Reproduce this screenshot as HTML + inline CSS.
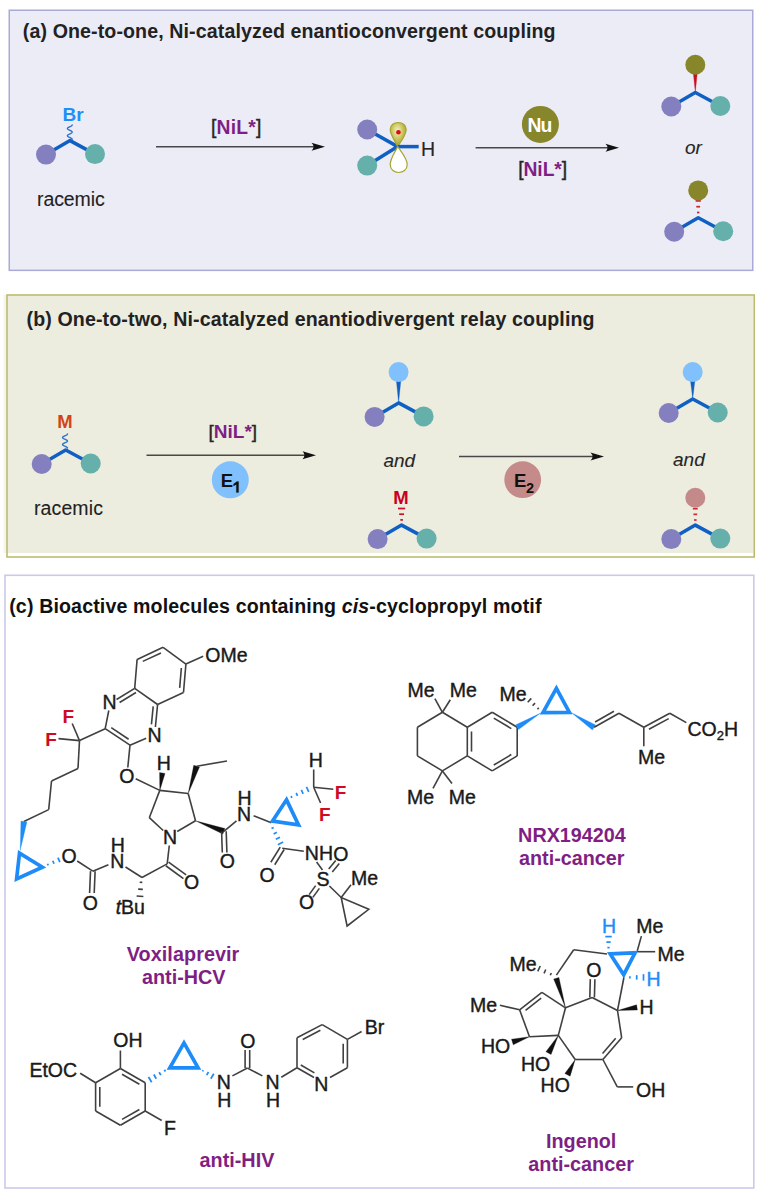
<!DOCTYPE html>
<html><head><meta charset="utf-8"><style>
html,body{margin:0;padding:0;background:#fff;width:762px;height:1198px;overflow:hidden}
svg{display:block;font-family:"Liberation Sans",sans-serif}
</style></head><body>
<svg width="762" height="1198" viewBox="0 0 762 1198">
<rect width="762" height="1198" fill="#fff"/>
<rect x="9.25" y="10.25" width="743.5" height="260.1" fill="#ececf6" stroke="#aaaad6" stroke-width="1.5"/>
<text x="22.80" y="38.40" font-size="19.6" font-weight="bold" font-style="normal" fill="#222" stroke="#222" stroke-width="0.0" textLength="532.77" lengthAdjust="spacing" >(a) One-to-one, Ni-catalyzed enantioconvergent coupling</text>
<polyline points="46.00,154.60 70.00,140.60 95.00,154.10" fill="none" stroke="#1060c4" stroke-width="3.5" stroke-linejoin="round" stroke-linecap="butt"/>
<circle cx="46.00" cy="154.60" r="10" fill="#8480c0" stroke="none" stroke-width="0"/>
<circle cx="95.00" cy="154.10" r="10" fill="#66b0ac" stroke="none" stroke-width="0"/>
<path d="M72.20,124.90 L72.15,125.14 L71.99,125.38 L71.74,125.62 L71.41,125.86 L71.00,126.10 L70.54,126.34 L70.05,126.58 L69.55,126.82 L69.06,127.06 L68.60,127.30 L68.19,127.54 L67.86,127.78 L67.61,128.02 L67.45,128.26 L67.40,128.50 L67.45,128.74 L67.61,128.98 L67.86,129.22 L68.19,129.46 L68.60,129.70 L69.06,129.94 L69.55,130.18 L70.05,130.42 L70.54,130.66 L71.00,130.90 L71.41,131.14 L71.74,131.38 L71.99,131.62 L72.15,131.86 L72.20,132.10 L72.15,132.34 L71.99,132.58 L71.74,132.82 L71.41,133.06 L71.00,133.30 L70.54,133.54 L70.05,133.78 L69.55,134.02 L69.06,134.26 L68.60,134.50 L68.19,134.74 L67.86,134.98 L67.61,135.22 L67.45,135.46 L67.40,135.70 L67.45,135.94 L67.61,136.18 L67.86,136.42 L68.19,136.66 L68.60,136.90 L69.06,137.14 L69.55,137.38 L70.05,137.62 L70.54,137.86 L71.00,138.10 L71.41,138.34 L71.74,138.58 L71.99,138.82 L72.15,139.06 L72.20,139.30" fill="none" stroke="#2a70cc" stroke-width="1.35" stroke-linecap="round" stroke-linejoin="round"/>
<text x="62.50" y="120.60" font-size="19" font-weight="bold" font-style="normal" fill="#1e90f8" stroke="#1e90f8" stroke-width="0.0" >Br</text>
<text x="37.00" y="206.30" font-size="19.5" font-weight="normal" font-style="normal" fill="#222" stroke="#222" stroke-width="0.1" textLength="67.75" lengthAdjust="spacing" >racemic</text>
<line x1="156.00" y1="146.70" x2="314.50" y2="146.70" stroke="#484848" stroke-width="1.5" stroke-linecap="butt"/>
<path d="M325.00,146.70 L311.50,142.70 Q315.50,146.70 311.50,150.70 Z" fill="#111"/>
<text x="211.00" y="134.30" font-size="19.3" textLength="50.36" lengthAdjust="spacing" ><tspan font-weight="normal" font-style="normal" fill="#262626" stroke="#262626" stroke-width="0.4" >[</tspan><tspan font-weight="bold" font-style="normal" fill="#7f1f84" stroke="#7f1f84" stroke-width="0.0" >NiL*</tspan><tspan font-weight="normal" font-style="normal" fill="#262626" stroke="#262626" stroke-width="0.4" >]</tspan></text>
<polyline points="367.20,129.50 397.70,146.60 367.20,165.60" fill="none" stroke="#1060c4" stroke-width="3.5" stroke-linejoin="round" stroke-linecap="butt"/>
<circle cx="367.20" cy="129.50" r="10" fill="#8480c0" stroke="none" stroke-width="0"/>
<circle cx="367.20" cy="165.60" r="10" fill="#66b0ac" stroke="none" stroke-width="0"/>
<defs><radialGradient id="lg" cx="0.45" cy="0.35" r="0.7"><stop offset="0" stop-color="#f4f2c8"/><stop offset="0.5" stop-color="#c8c45a"/><stop offset="1" stop-color="#9a9628"/></radialGradient></defs>
<path d="M397.7,146.6 C394.7,140.6 390.2,134.6 390.2,129.6 C390.2,120.1 406.2,120.1 406.2,129.6 C406.2,134.6 401.7,140.6 397.7,146.6 Z" fill="url(#lg)" stroke="#a8a432" stroke-width="1.2"/>
<line x1="397.70" y1="146.60" x2="418.70" y2="146.60" stroke="#1060c4" stroke-width="3.5" stroke-linecap="butt"/>
<path d="M397.7,146.6 C394.7,152.6 390.2,158.6 390.2,164.6 C390.2,175.1 407.2,175.1 407.2,164.6 C407.2,158.6 401.7,152.6 397.7,146.6 Z" fill="#ffffff" stroke="#a8a432" stroke-width="1.2"/>
<circle cx="398.40" cy="132.20" r="2.3" fill="#d0101a" stroke="none" stroke-width="0"/>
<text x="420.90" y="155.80" font-size="19.5" font-weight="normal" font-style="normal" fill="#262626" stroke="#262626" stroke-width="0.15" >H</text>
<line x1="475.60" y1="147.80" x2="608.50" y2="147.80" stroke="#484848" stroke-width="1.5" stroke-linecap="butt"/>
<path d="M619.00,147.80 L605.50,143.80 Q609.50,147.80 605.50,151.80 Z" fill="#111"/>
<circle cx="540.40" cy="124.40" r="18.5" fill="#88862a" stroke="none" stroke-width="0"/>
<text x="527.50" y="132.20" font-size="19.3" font-weight="bold" font-style="normal" fill="#ffffff" stroke="#ffffff" stroke-width="0.0" textLength="24.78" lengthAdjust="spacing" >Nu</text>
<text x="518.20" y="176.30" font-size="19.3" textLength="48.96" lengthAdjust="spacing" ><tspan font-weight="normal" font-style="normal" fill="#262626" stroke="#262626" stroke-width="0.4" >[</tspan><tspan font-weight="bold" font-style="normal" fill="#7f1f84" stroke="#7f1f84" stroke-width="0.0" >NiL*</tspan><tspan font-weight="normal" font-style="normal" fill="#262626" stroke="#262626" stroke-width="0.4" >]</tspan></text>
<polyline points="671.30,106.50 695.30,92.50 720.30,106.00" fill="none" stroke="#1060c4" stroke-width="3.5" stroke-linejoin="round" stroke-linecap="butt"/>
<circle cx="671.30" cy="106.50" r="10" fill="#8480c0" stroke="none" stroke-width="0"/>
<circle cx="720.30" cy="106.00" r="10" fill="#66b0ac" stroke="none" stroke-width="0"/>
<polygon points="695.30,92.50 697.40,72.00 693.20,72.00" fill="#c8101e" stroke="#c8101e" stroke-width="0.3" stroke-linejoin="miter"/>
<circle cx="695.30" cy="64.70" r="10" fill="#88862a" stroke="none" stroke-width="0"/>
<text x="685.00" y="154.40" font-size="19" font-weight="normal" font-style="italic" fill="#262626" stroke="#262626" stroke-width="0.1" >or</text>
<polyline points="674.20,231.70 698.20,217.70 723.20,231.20" fill="none" stroke="#1060c4" stroke-width="3.5" stroke-linejoin="round" stroke-linecap="butt"/>
<circle cx="674.20" cy="231.70" r="10" fill="#8480c0" stroke="none" stroke-width="0"/>
<circle cx="723.20" cy="231.20" r="10" fill="#66b0ac" stroke="none" stroke-width="0"/>
<line x1="695.60" y1="200.90" x2="700.80" y2="200.90" stroke="#d02030" stroke-width="1.7" stroke-linecap="butt"/>
<line x1="696.30" y1="206.70" x2="700.10" y2="206.70" stroke="#d02030" stroke-width="1.7" stroke-linecap="butt"/>
<line x1="697.00" y1="212.50" x2="699.40" y2="212.50" stroke="#d02030" stroke-width="1.7" stroke-linecap="butt"/>
<circle cx="698.20" cy="190.40" r="10" fill="#88862a" stroke="none" stroke-width="0"/>
<rect x="3.5" y="295" width="4" height="258" fill="#f4f4ec"/><rect x="7" y="295" width="746" height="258" fill="#ececdf"/>
<rect x="7" y="295" width="747.2" height="262" fill="none" stroke="#bcbc70" stroke-width="1.6"/>
<text x="26.50" y="325.80" font-size="19.6" font-weight="bold" font-style="normal" fill="#222" stroke="#222" stroke-width="0.0" textLength="568.07" lengthAdjust="spacing" >(b) One-to-two, Ni-catalyzed enantiodivergent relay coupling</text>
<polyline points="41.70,464.00 65.70,450.00 90.70,463.50" fill="none" stroke="#1060c4" stroke-width="3.5" stroke-linejoin="round" stroke-linecap="butt"/>
<circle cx="41.70" cy="464.00" r="10" fill="#8480c0" stroke="none" stroke-width="0"/>
<circle cx="90.70" cy="463.50" r="10" fill="#66b0ac" stroke="none" stroke-width="0"/>
<path d="M67.50,434.00 L67.45,434.23 L67.28,434.47 L67.02,434.70 L66.67,434.93 L66.25,435.17 L65.77,435.40 L65.26,435.63 L64.74,435.87 L64.23,436.10 L63.75,436.33 L63.33,436.57 L62.98,436.80 L62.72,437.03 L62.55,437.27 L62.50,437.50 L62.55,437.73 L62.72,437.97 L62.98,438.20 L63.33,438.43 L63.75,438.67 L64.23,438.90 L64.74,439.13 L65.26,439.37 L65.77,439.60 L66.25,439.83 L66.67,440.07 L67.02,440.30 L67.28,440.53 L67.45,440.77 L67.50,441.00 L67.45,441.23 L67.28,441.47 L67.02,441.70 L66.67,441.93 L66.25,442.17 L65.77,442.40 L65.26,442.63 L64.74,442.87 L64.23,443.10 L63.75,443.33 L63.33,443.57 L62.98,443.80 L62.72,444.03 L62.55,444.27 L62.50,444.50 L62.55,444.73 L62.72,444.97 L62.98,445.20 L63.33,445.43 L63.75,445.67 L64.23,445.90 L64.74,446.13 L65.26,446.37 L65.77,446.60 L66.25,446.83 L66.67,447.07 L67.02,447.30 L67.28,447.53 L67.45,447.77 L67.50,448.00" fill="none" stroke="#2a70cc" stroke-width="1.35" stroke-linecap="round" stroke-linejoin="round"/>
<text x="57.30" y="428.30" font-size="18.5" font-weight="bold" font-style="normal" fill="#d04418" stroke="#d04418" stroke-width="0.0" >M</text>
<text x="33.90" y="514.50" font-size="19.5" font-weight="normal" font-style="normal" fill="#222" stroke="#222" stroke-width="0.1" textLength="69.05" lengthAdjust="spacing" >racemic</text>
<line x1="146.50" y1="455.30" x2="305.50" y2="455.30" stroke="#484848" stroke-width="1.5" stroke-linecap="butt"/>
<path d="M316.00,455.30 L302.50,451.30 Q306.50,455.30 302.50,459.30 Z" fill="#111"/>
<text x="208.50" y="437.50" font-size="19" ><tspan font-weight="normal" font-style="normal" fill="#262626" stroke="#262626" stroke-width="0.4" >[</tspan><tspan font-weight="bold" font-style="normal" fill="#7f1f84" stroke="#7f1f84" stroke-width="0.0" >NiL*</tspan><tspan font-weight="normal" font-style="normal" fill="#262626" stroke="#262626" stroke-width="0.4" >]</tspan></text>
<circle cx="230.30" cy="479.80" r="18.5" fill="#80c0fc" stroke="none" stroke-width="0"/>
<text x="220.70" y="487.40" font-size="18.5" font-weight="bold" font-style="normal" fill="#111" stroke="#111" stroke-width="0.0" >E</text>
<polygon points="236.30,492.50 238.60,492.50 238.60,481.60 236.90,481.60 233.50,484.10 233.50,486.10 236.30,484.40" fill="#111" stroke="#111" stroke-width="0.2" stroke-linejoin="miter"/>
<polyline points="374.60,416.90 398.60,402.90 423.60,416.40" fill="none" stroke="#1060c4" stroke-width="3.5" stroke-linejoin="round" stroke-linecap="butt"/>
<circle cx="374.60" cy="416.90" r="10" fill="#8480c0" stroke="none" stroke-width="0"/>
<circle cx="423.60" cy="416.40" r="10" fill="#66b0ac" stroke="none" stroke-width="0"/>
<polygon points="398.60,402.90 400.90,380.00 396.30,380.00" fill="#1060c4" stroke="#1060c4" stroke-width="0.3" stroke-linejoin="miter"/>
<circle cx="398.60" cy="372.10" r="10" fill="#80c0fc" stroke="none" stroke-width="0"/>
<text x="383.40" y="467.00" font-size="19" font-weight="normal" font-style="italic" fill="#262626" stroke="#262626" stroke-width="0.1" >and</text>
<polyline points="377.60,539.10 401.60,525.10 426.60,538.60" fill="none" stroke="#1060c4" stroke-width="3.5" stroke-linejoin="round" stroke-linecap="butt"/>
<circle cx="377.60" cy="539.10" r="10" fill="#8480c0" stroke="none" stroke-width="0"/>
<circle cx="426.60" cy="538.60" r="10" fill="#66b0ac" stroke="none" stroke-width="0"/>
<line x1="398.00" y1="508.50" x2="405.20" y2="508.50" stroke="#c8102a" stroke-width="1.7" stroke-linecap="butt"/>
<line x1="399.15" y1="514.20" x2="404.05" y2="514.20" stroke="#c8102a" stroke-width="1.7" stroke-linecap="butt"/>
<line x1="400.30" y1="519.90" x2="402.90" y2="519.90" stroke="#c8102a" stroke-width="1.7" stroke-linecap="butt"/>
<text x="393.30" y="504.40" font-size="18.5" font-weight="bold" font-style="normal" fill="#c8001e" stroke="#c8001e" stroke-width="0.0" >M</text>
<line x1="459.00" y1="456.60" x2="593.50" y2="456.60" stroke="#484848" stroke-width="1.5" stroke-linecap="butt"/>
<path d="M604.00,456.60 L590.50,452.60 Q594.50,456.60 590.50,460.60 Z" fill="#111"/>
<circle cx="522.70" cy="479.70" r="18.4" fill="#c58a8a" stroke="none" stroke-width="0"/>
<text x="513.90" y="487.30" font-size="18.5" font-weight="bold" font-style="normal" fill="#111" stroke="#111" stroke-width="0.0" >E</text>
<text x="526.00" y="492.50" font-size="14.5" font-weight="bold" font-style="normal" fill="#111" stroke="#111" stroke-width="0.0" >2</text>
<polyline points="668.70,413.00 692.70,399.00 717.70,412.50" fill="none" stroke="#1060c4" stroke-width="3.5" stroke-linejoin="round" stroke-linecap="butt"/>
<circle cx="668.70" cy="413.00" r="10" fill="#8480c0" stroke="none" stroke-width="0"/>
<circle cx="717.70" cy="412.50" r="10" fill="#66b0ac" stroke="none" stroke-width="0"/>
<polygon points="692.70,399.00 695.00,380.00 690.40,380.00" fill="#1060c4" stroke="#1060c4" stroke-width="0.3" stroke-linejoin="miter"/>
<circle cx="692.70" cy="372.10" r="10" fill="#80c0fc" stroke="none" stroke-width="0"/>
<text x="673.00" y="466.30" font-size="19" font-weight="normal" font-style="italic" fill="#262626" stroke="#262626" stroke-width="0.1" >and</text>
<polyline points="671.30,539.10 695.30,525.10 720.30,538.60" fill="none" stroke="#1060c4" stroke-width="3.5" stroke-linejoin="round" stroke-linecap="butt"/>
<circle cx="671.30" cy="539.10" r="10" fill="#8480c0" stroke="none" stroke-width="0"/>
<circle cx="720.30" cy="538.60" r="10" fill="#66b0ac" stroke="none" stroke-width="0"/>
<line x1="692.85" y1="508.70" x2="697.75" y2="508.70" stroke="#d02838" stroke-width="1.7" stroke-linecap="butt"/>
<line x1="693.42" y1="514.35" x2="697.17" y2="514.35" stroke="#d02838" stroke-width="1.7" stroke-linecap="butt"/>
<line x1="694.00" y1="520.00" x2="696.60" y2="520.00" stroke="#d02838" stroke-width="1.7" stroke-linecap="butt"/>
<circle cx="695.30" cy="497.80" r="10" fill="#c48a8a" stroke="none" stroke-width="0"/>
<rect x="5" y="575.3" width="748.8" height="612.7" fill="#ffffff" stroke="#cacae8" stroke-width="1.6"/>
<text x="9.20" y="613.40" font-size="19.6" textLength="532.23" lengthAdjust="spacing" ><tspan font-weight="bold" font-style="normal" fill="#111" stroke="#111" stroke-width="0.0" >(c) Bioactive molecules containing </tspan><tspan font-weight="bold" font-style="italic" fill="#111" stroke="#111" stroke-width="0.0" >cis</tspan><tspan font-weight="bold" font-style="normal" fill="#111" stroke="#111" stroke-width="0.0" >-cyclopropyl motif</tspan></text>
<line x1="163.10" y1="647.30" x2="185.90" y2="664.10" stroke="#404040" stroke-width="1.6" stroke-linecap="butt"/>
<line x1="185.90" y1="664.10" x2="183.50" y2="692.50" stroke="#404040" stroke-width="1.6" stroke-linecap="butt"/>
<line x1="183.50" y1="692.50" x2="157.60" y2="704.50" stroke="#404040" stroke-width="1.6" stroke-linecap="butt"/>
<line x1="157.60" y1="704.50" x2="134.70" y2="688.40" stroke="#404040" stroke-width="1.6" stroke-linecap="butt"/>
<line x1="134.70" y1="688.40" x2="137.10" y2="659.40" stroke="#404040" stroke-width="1.6" stroke-linecap="butt"/>
<line x1="137.10" y1="659.40" x2="163.10" y2="647.30" stroke="#404040" stroke-width="1.6" stroke-linecap="butt"/>
<line x1="142.77" y1="661.39" x2="160.97" y2="652.92" stroke="#404040" stroke-width="1.6" stroke-linecap="butt"/>
<line x1="181.35" y1="668.01" x2="179.67" y2="687.89" stroke="#404040" stroke-width="1.6" stroke-linecap="butt"/>
<line x1="185.90" y1="664.10" x2="203.20" y2="656.30" stroke="#404040" stroke-width="1.6" stroke-linecap="butt"/>
<text x="205.30" y="661.50" font-size="19.5" font-weight="normal" font-style="normal" fill="#1a1a1a" stroke="#1a1a1a" stroke-width="0.4" >OMe</text>
<text x="102.50" y="708.50" font-size="19.5" font-weight="normal" font-style="normal" fill="#1a1a1a" stroke="#1a1a1a" stroke-width="0.4" >N</text>
<text x="147.50" y="741.50" font-size="19.5" font-weight="normal" font-style="normal" fill="#1a1a1a" stroke="#1a1a1a" stroke-width="0.4" >N</text>
<line x1="134.70" y1="688.40" x2="116.50" y2="699.50" stroke="#404040" stroke-width="1.6" stroke-linecap="butt"/>
<line x1="135.98" y1="692.54" x2="119.60" y2="702.53" stroke="#404040" stroke-width="1.6" stroke-linecap="butt"/>
<line x1="108.80" y1="710.50" x2="105.20" y2="728.70" stroke="#404040" stroke-width="1.6" stroke-linecap="butt"/>
<line x1="105.20" y1="728.70" x2="130.00" y2="745.20" stroke="#404040" stroke-width="1.6" stroke-linecap="butt"/>
<line x1="111.25" y1="727.68" x2="128.61" y2="739.23" stroke="#404040" stroke-width="1.6" stroke-linecap="butt"/>
<line x1="130.00" y1="745.20" x2="146.20" y2="738.20" stroke="#404040" stroke-width="1.6" stroke-linecap="butt"/>
<line x1="155.40" y1="727.00" x2="157.60" y2="704.50" stroke="#404040" stroke-width="1.6" stroke-linecap="butt"/>
<line x1="151.44" y1="724.34" x2="153.20" y2="706.34" stroke="#404040" stroke-width="1.6" stroke-linecap="butt"/>
<line x1="105.20" y1="728.70" x2="79.50" y2="740.60" stroke="#404040" stroke-width="1.6" stroke-linecap="butt"/>
<line x1="72.20" y1="723.50" x2="79.50" y2="740.60" stroke="#404040" stroke-width="1.6" stroke-linecap="butt"/>
<line x1="58.50" y1="738.60" x2="79.50" y2="740.60" stroke="#404040" stroke-width="1.6" stroke-linecap="butt"/>
<text x="62.40" y="722.50" font-size="19" font-weight="bold" font-style="normal" fill="#d00a22" stroke="#d00a22" stroke-width="0.0" >F</text>
<text x="45.30" y="746.40" font-size="19" font-weight="bold" font-style="normal" fill="#d00a22" stroke="#d00a22" stroke-width="0.0" >F</text>
<line x1="79.50" y1="740.60" x2="78.00" y2="768.50" stroke="#404040" stroke-width="1.6" stroke-linecap="butt"/>
<line x1="78.00" y1="768.50" x2="51.50" y2="781.00" stroke="#404040" stroke-width="1.6" stroke-linecap="butt"/>
<line x1="51.50" y1="781.00" x2="48.70" y2="809.60" stroke="#404040" stroke-width="1.6" stroke-linecap="butt"/>
<line x1="48.70" y1="809.60" x2="23.90" y2="821.50" stroke="#404040" stroke-width="1.6" stroke-linecap="butt"/>
<polygon points="20.20,850.50 26.88,821.88 20.92,821.12" fill="#1e8cf8" stroke="#1e8cf8" stroke-width="0.3" stroke-linejoin="miter"/>
<polygon points="19.51,853.10 16.60,878.87 42.37,867.15" fill="none" stroke="#1e8cf8" stroke-width="3.7" stroke-linejoin="miter"/>
<line x1="48.25" y1="865.43" x2="47.55" y2="863.77" stroke="#1e8cf8" stroke-width="1.7" stroke-linecap="butt"/>
<line x1="54.05" y1="863.77" x2="52.75" y2="860.73" stroke="#1e8cf8" stroke-width="1.7" stroke-linecap="butt"/>
<line x1="59.84" y1="862.11" x2="57.96" y2="857.69" stroke="#1e8cf8" stroke-width="1.7" stroke-linecap="butt"/>
<text x="61.50" y="862.90" font-size="19.5" font-weight="normal" font-style="normal" fill="#1a1a1a" stroke="#1a1a1a" stroke-width="0.4" >O</text>
<line x1="77.20" y1="861.00" x2="92.80" y2="871.20" stroke="#404040" stroke-width="1.6" stroke-linecap="butt"/>
<line x1="92.80" y1="871.20" x2="108.40" y2="864.70" stroke="#404040" stroke-width="1.6" stroke-linecap="butt"/>
<line x1="90.50" y1="871.11" x2="89.60" y2="892.91" stroke="#404040" stroke-width="1.6" stroke-linecap="butt"/>
<line x1="95.10" y1="871.29" x2="94.20" y2="893.09" stroke="#404040" stroke-width="1.6" stroke-linecap="butt"/>
<text x="82.70" y="909.70" font-size="19.5" font-weight="normal" font-style="normal" fill="#1a1a1a" stroke="#1a1a1a" stroke-width="0.4" >O</text>
<text x="110.20" y="868.40" font-size="19.5" font-weight="normal" font-style="normal" fill="#1a1a1a" stroke="#1a1a1a" stroke-width="0.4" >N</text>
<text x="110.80" y="851.90" font-size="19.5" font-weight="normal" font-style="normal" fill="#1a1a1a" stroke="#1a1a1a" stroke-width="0.4" >H</text>
<line x1="125.50" y1="867.00" x2="142.00" y2="877.50" stroke="#404040" stroke-width="1.6" stroke-linecap="butt"/>
<line x1="139.70" y1="882.21" x2="142.30" y2="882.39" stroke="#404040" stroke-width="1.6" stroke-linecap="butt"/>
<line x1="138.16" y1="889.08" x2="142.84" y2="889.42" stroke="#404040" stroke-width="1.6" stroke-linecap="butt"/>
<line x1="136.61" y1="895.96" x2="143.39" y2="896.44" stroke="#404040" stroke-width="1.6" stroke-linecap="butt"/>
<text x="115.70" y="914.30" font-size="19.5" ><tspan font-weight="normal" font-style="italic" fill="#1a1a1a" stroke="#1a1a1a" stroke-width="0.4" >t</tspan><tspan font-weight="normal" font-style="normal" fill="#1a1a1a" stroke="#1a1a1a" stroke-width="0.4" >Bu</tspan></text>
<line x1="130.00" y1="745.20" x2="127.80" y2="767.50" stroke="#404040" stroke-width="1.6" stroke-linecap="butt"/>
<text x="119.30" y="783.00" font-size="19.5" font-weight="normal" font-style="normal" fill="#1a1a1a" stroke="#1a1a1a" stroke-width="0.4" >O</text>
<line x1="135.70" y1="778.80" x2="159.80" y2="790.40" stroke="#404040" stroke-width="1.6" stroke-linecap="butt"/>
<polygon points="159.80,790.40 165.02,773.39 159.58,772.61" fill="#111" stroke="#111" stroke-width="0.3" stroke-linejoin="miter"/>
<text x="156.70" y="770.40" font-size="19.5" font-weight="normal" font-style="normal" fill="#1a1a1a" stroke="#1a1a1a" stroke-width="0.4" >H</text>
<line x1="159.80" y1="790.40" x2="188.20" y2="793.50" stroke="#404040" stroke-width="1.6" stroke-linecap="butt"/>
<line x1="188.20" y1="793.50" x2="195.50" y2="820.80" stroke="#404040" stroke-width="1.6" stroke-linecap="butt"/>
<line x1="159.80" y1="790.40" x2="149.30" y2="817.70" stroke="#404040" stroke-width="1.6" stroke-linecap="butt"/>
<line x1="149.30" y1="817.70" x2="163.20" y2="830.50" stroke="#404040" stroke-width="1.6" stroke-linecap="butt"/>
<line x1="177.20" y1="831.50" x2="195.50" y2="820.80" stroke="#404040" stroke-width="1.6" stroke-linecap="butt"/>
<text x="163.00" y="844.00" font-size="19.5" font-weight="normal" font-style="normal" fill="#1a1a1a" stroke="#1a1a1a" stroke-width="0.4" >N</text>
<polygon points="188.20,793.50 199.47,767.08 193.73,765.32" fill="#111" stroke="#111" stroke-width="0.3" stroke-linejoin="miter"/>
<line x1="196.60" y1="766.20" x2="227.00" y2="761.00" stroke="#404040" stroke-width="1.6" stroke-linecap="butt"/>
<polygon points="195.50,820.80 222.86,834.11 224.94,828.49" fill="#111" stroke="#111" stroke-width="0.3" stroke-linejoin="miter"/>
<line x1="223.90" y1="831.30" x2="236.50" y2="820.80" stroke="#404040" stroke-width="1.6" stroke-linecap="butt"/>
<text x="236.90" y="820.70" font-size="19.5" font-weight="normal" font-style="normal" fill="#1a1a1a" stroke="#1a1a1a" stroke-width="0.4" >N</text>
<text x="237.50" y="805.00" font-size="19.5" font-weight="normal" font-style="normal" fill="#1a1a1a" stroke="#1a1a1a" stroke-width="0.4" >H</text>
<line x1="221.60" y1="831.38" x2="222.30" y2="852.58" stroke="#404040" stroke-width="1.6" stroke-linecap="butt"/>
<line x1="226.20" y1="831.22" x2="226.90" y2="852.42" stroke="#404040" stroke-width="1.6" stroke-linecap="butt"/>
<text x="219.70" y="868.00" font-size="19.5" font-weight="normal" font-style="normal" fill="#1a1a1a" stroke="#1a1a1a" stroke-width="0.4" >O</text>
<line x1="169.30" y1="845.50" x2="167.20" y2="863.90" stroke="#404040" stroke-width="1.6" stroke-linecap="butt"/>
<line x1="165.84" y1="865.76" x2="183.44" y2="878.66" stroke="#404040" stroke-width="1.6" stroke-linecap="butt"/>
<line x1="168.56" y1="862.04" x2="186.16" y2="874.94" stroke="#404040" stroke-width="1.6" stroke-linecap="butt"/>
<text x="184.00" y="889.00" font-size="19.5" font-weight="normal" font-style="normal" fill="#1a1a1a" stroke="#1a1a1a" stroke-width="0.4" >O</text>
<line x1="167.20" y1="863.90" x2="142.00" y2="877.50" stroke="#404040" stroke-width="1.6" stroke-linecap="butt"/>
<line x1="253.60" y1="815.80" x2="271.30" y2="822.70" stroke="#404040" stroke-width="1.6" stroke-linecap="butt"/>
<polygon points="272.55,821.09 286.54,799.85 298.53,824.87" fill="none" stroke="#1e8cf8" stroke-width="3.7" stroke-linejoin="miter"/>
<line x1="291.92" y1="797.81" x2="291.08" y2="795.99" stroke="#1e8cf8" stroke-width="1.7" stroke-linecap="butt"/>
<line x1="297.54" y1="795.84" x2="296.20" y2="792.96" stroke="#1e8cf8" stroke-width="1.7" stroke-linecap="butt"/>
<line x1="303.15" y1="793.86" x2="301.32" y2="789.94" stroke="#1e8cf8" stroke-width="1.7" stroke-linecap="butt"/>
<line x1="308.76" y1="791.89" x2="306.44" y2="786.91" stroke="#1e8cf8" stroke-width="1.7" stroke-linecap="butt"/>
<line x1="313.70" y1="787.20" x2="313.70" y2="769.50" stroke="#404040" stroke-width="1.6" stroke-linecap="butt"/>
<text x="308.70" y="766.60" font-size="19.5" font-weight="normal" font-style="normal" fill="#1a1a1a" stroke="#1a1a1a" stroke-width="0.4" >H</text>
<line x1="313.70" y1="787.20" x2="333.30" y2="789.20" stroke="#404040" stroke-width="1.6" stroke-linecap="butt"/>
<text x="334.80" y="799.00" font-size="19" font-weight="bold" font-style="normal" fill="#d00a22" stroke="#d00a22" stroke-width="0.0" >F</text>
<line x1="313.70" y1="787.20" x2="320.60" y2="803.00" stroke="#404040" stroke-width="1.6" stroke-linecap="butt"/>
<text x="319.10" y="820.70" font-size="19" font-weight="bold" font-style="normal" fill="#d00a22" stroke="#d00a22" stroke-width="0.0" >F</text>
<line x1="271.53" y1="828.55" x2="273.67" y2="827.45" stroke="#1e8cf8" stroke-width="1.7" stroke-linecap="butt"/>
<line x1="273.65" y1="833.95" x2="276.82" y2="832.32" stroke="#1e8cf8" stroke-width="1.7" stroke-linecap="butt"/>
<line x1="275.76" y1="839.35" x2="279.97" y2="837.19" stroke="#1e8cf8" stroke-width="1.7" stroke-linecap="butt"/>
<line x1="277.88" y1="844.75" x2="283.12" y2="842.05" stroke="#1e8cf8" stroke-width="1.7" stroke-linecap="butt"/>
<line x1="280.24" y1="847.09" x2="270.84" y2="862.29" stroke="#404040" stroke-width="1.6" stroke-linecap="butt"/>
<line x1="284.16" y1="849.51" x2="274.76" y2="864.71" stroke="#404040" stroke-width="1.6" stroke-linecap="butt"/>
<text x="259.50" y="881.70" font-size="19.5" font-weight="normal" font-style="normal" fill="#1a1a1a" stroke="#1a1a1a" stroke-width="0.4" >O</text>
<line x1="282.20" y1="848.30" x2="303.80" y2="851.20" stroke="#404040" stroke-width="1.6" stroke-linecap="butt"/>
<text x="304.80" y="860.00" font-size="19.5" font-weight="normal" font-style="normal" fill="#1a1a1a" stroke="#1a1a1a" stroke-width="0.4" >NH</text>
<text x="333.30" y="861.00" font-size="19.5" font-weight="normal" font-style="normal" fill="#1a1a1a" stroke="#1a1a1a" stroke-width="0.4" >O</text>
<line x1="316.60" y1="862.00" x2="322.50" y2="869.90" stroke="#404040" stroke-width="1.6" stroke-linecap="butt"/>
<text x="316.60" y="885.70" font-size="19.5" font-weight="normal" font-style="normal" fill="#1a1a1a" stroke="#1a1a1a" stroke-width="0.4" >S</text>
<line x1="332.28" y1="871.96" x2="339.28" y2="863.46" stroke="#404040" stroke-width="1.6" stroke-linecap="butt"/>
<line x1="328.72" y1="869.04" x2="335.72" y2="860.54" stroke="#404040" stroke-width="1.6" stroke-linecap="butt"/>
<line x1="315.64" y1="885.65" x2="309.14" y2="894.65" stroke="#404040" stroke-width="1.6" stroke-linecap="butt"/>
<line x1="319.36" y1="888.35" x2="312.86" y2="897.35" stroke="#404040" stroke-width="1.6" stroke-linecap="butt"/>
<text x="298.90" y="909.30" font-size="19.5" font-weight="normal" font-style="normal" fill="#1a1a1a" stroke="#1a1a1a" stroke-width="0.4" >O</text>
<line x1="329.40" y1="886.00" x2="341.20" y2="897.50" stroke="#404040" stroke-width="1.6" stroke-linecap="butt"/>
<line x1="341.20" y1="897.50" x2="351.00" y2="884.70" stroke="#404040" stroke-width="1.6" stroke-linecap="butt"/>
<text x="351.00" y="884.70" font-size="19.5" font-weight="normal" font-style="normal" fill="#1a1a1a" stroke="#1a1a1a" stroke-width="0.4" >Me</text>
<polygon points="341.20,897.50 347.10,926.00 368.80,909.30" fill="none" stroke="#404040" stroke-width="1.6" stroke-linejoin="miter"/>
<text x="126.80" y="960.80" font-size="19.8" font-weight="bold" font-style="normal" fill="#7f1f84" stroke="#7f1f84" stroke-width="0.0" textLength="112.50" lengthAdjust="spacing" >Voxilaprevir</text>
<text x="142.00" y="983.50" font-size="19.8" font-weight="bold" font-style="normal" fill="#7f1f84" stroke="#7f1f84" stroke-width="0.0" >anti-HCV</text>
<text x="29.40" y="1076.80" font-size="19.5" font-weight="normal" font-style="normal" fill="#1a1a1a" stroke="#1a1a1a" stroke-width="0.4" >EtOC</text>
<text x="113.30" y="1047.20" font-size="19.5" font-weight="normal" font-style="normal" fill="#1a1a1a" stroke="#1a1a1a" stroke-width="0.4" >OH</text>
<line x1="120.40" y1="1068.50" x2="145.20" y2="1082.70" stroke="#404040" stroke-width="1.6" stroke-linecap="butt"/>
<line x1="145.20" y1="1082.70" x2="145.20" y2="1111.00" stroke="#404040" stroke-width="1.6" stroke-linecap="butt"/>
<line x1="145.20" y1="1111.00" x2="120.40" y2="1125.20" stroke="#404040" stroke-width="1.6" stroke-linecap="butt"/>
<line x1="120.40" y1="1125.20" x2="95.60" y2="1111.00" stroke="#404040" stroke-width="1.6" stroke-linecap="butt"/>
<line x1="95.60" y1="1111.00" x2="95.60" y2="1082.70" stroke="#404040" stroke-width="1.6" stroke-linecap="butt"/>
<line x1="95.60" y1="1082.70" x2="120.40" y2="1068.50" stroke="#404040" stroke-width="1.6" stroke-linecap="butt"/>
<line x1="99.80" y1="1086.94" x2="99.80" y2="1106.76" stroke="#404040" stroke-width="1.6" stroke-linecap="butt"/>
<line x1="122.03" y1="1074.27" x2="139.39" y2="1084.21" stroke="#404040" stroke-width="1.6" stroke-linecap="butt"/>
<line x1="139.39" y1="1109.49" x2="122.03" y2="1119.43" stroke="#404040" stroke-width="1.6" stroke-linecap="butt"/>
<line x1="120.40" y1="1068.50" x2="120.40" y2="1050.50" stroke="#404040" stroke-width="1.6" stroke-linecap="butt"/>
<line x1="95.60" y1="1082.70" x2="80.20" y2="1073.20" stroke="#404040" stroke-width="1.6" stroke-linecap="butt"/>
<line x1="145.20" y1="1111.00" x2="161.70" y2="1120.50" stroke="#404040" stroke-width="1.6" stroke-linecap="butt"/>
<text x="164.00" y="1134.70" font-size="19.5" font-weight="normal" font-style="normal" fill="#1a1a1a" stroke="#1a1a1a" stroke-width="0.4" >F</text>
<line x1="151.70" y1="1082.26" x2="148.50" y2="1076.94" stroke="#1e8cf8" stroke-width="1.8" stroke-linecap="butt"/>
<line x1="156.27" y1="1078.69" x2="153.80" y2="1074.58" stroke="#1e8cf8" stroke-width="1.8" stroke-linecap="butt"/>
<line x1="160.84" y1="1075.12" x2="159.09" y2="1072.21" stroke="#1e8cf8" stroke-width="1.8" stroke-linecap="butt"/>
<line x1="165.42" y1="1071.56" x2="164.38" y2="1069.84" stroke="#1e8cf8" stroke-width="1.8" stroke-linecap="butt"/>
<polygon points="169.79,1067.85 184.00,1042.94 198.12,1067.85" fill="none" stroke="#1e8cf8" stroke-width="3.7" stroke-linejoin="miter"/>
<line x1="202.55" y1="1071.40" x2="203.25" y2="1070.20" stroke="#1e8cf8" stroke-width="1.7" stroke-linecap="butt"/>
<line x1="206.69" y1="1075.10" x2="208.51" y2="1072.00" stroke="#1e8cf8" stroke-width="1.7" stroke-linecap="butt"/>
<line x1="210.84" y1="1078.80" x2="213.76" y2="1073.80" stroke="#1e8cf8" stroke-width="1.7" stroke-linecap="butt"/>
<text x="216.70" y="1089.30" font-size="19.5" font-weight="normal" font-style="normal" fill="#1a1a1a" stroke="#1a1a1a" stroke-width="0.4" >N</text>
<text x="217.20" y="1106.60" font-size="19.5" font-weight="normal" font-style="normal" fill="#1a1a1a" stroke="#1a1a1a" stroke-width="0.4" >H</text>
<line x1="232.40" y1="1075.90" x2="247.40" y2="1068.00" stroke="#404040" stroke-width="1.6" stroke-linecap="butt"/>
<line x1="247.40" y1="1068.00" x2="262.40" y2="1075.90" stroke="#404040" stroke-width="1.6" stroke-linecap="butt"/>
<line x1="249.70" y1="1068.00" x2="249.70" y2="1050.00" stroke="#404040" stroke-width="1.6" stroke-linecap="butt"/>
<line x1="245.10" y1="1068.00" x2="245.10" y2="1050.00" stroke="#404040" stroke-width="1.6" stroke-linecap="butt"/>
<text x="240.30" y="1047.60" font-size="19.5" font-weight="normal" font-style="normal" fill="#1a1a1a" stroke="#1a1a1a" stroke-width="0.4" >O</text>
<text x="265.50" y="1089.30" font-size="19.5" font-weight="normal" font-style="normal" fill="#1a1a1a" stroke="#1a1a1a" stroke-width="0.4" >N</text>
<text x="266.00" y="1106.60" font-size="19.5" font-weight="normal" font-style="normal" fill="#1a1a1a" stroke="#1a1a1a" stroke-width="0.4" >H</text>
<line x1="281.30" y1="1077.20" x2="297.00" y2="1067.70" stroke="#404040" stroke-width="1.6" stroke-linecap="butt"/>
<line x1="297.00" y1="1067.70" x2="297.00" y2="1037.80" stroke="#404040" stroke-width="1.6" stroke-linecap="butt"/>
<line x1="297.00" y1="1037.80" x2="322.20" y2="1024.60" stroke="#404040" stroke-width="1.6" stroke-linecap="butt"/>
<line x1="322.20" y1="1024.60" x2="347.40" y2="1039.40" stroke="#404040" stroke-width="1.6" stroke-linecap="butt"/>
<line x1="347.40" y1="1039.40" x2="347.40" y2="1067.70" stroke="#404040" stroke-width="1.6" stroke-linecap="butt"/>
<line x1="347.40" y1="1067.70" x2="330.00" y2="1077.50" stroke="#404040" stroke-width="1.6" stroke-linecap="butt"/>
<line x1="314.00" y1="1077.50" x2="297.00" y2="1067.70" stroke="#404040" stroke-width="1.6" stroke-linecap="butt"/>
<line x1="302.73" y1="1039.54" x2="320.37" y2="1030.30" stroke="#404040" stroke-width="1.6" stroke-linecap="butt"/>
<line x1="343.20" y1="1043.64" x2="343.20" y2="1063.46" stroke="#404040" stroke-width="1.6" stroke-linecap="butt"/>
<line x1="300.80" y1="1065.04" x2="314.40" y2="1072.88" stroke="#404040" stroke-width="1.6" stroke-linecap="butt"/>
<text x="314.30" y="1091.30" font-size="19.5" font-weight="normal" font-style="normal" fill="#1a1a1a" stroke="#1a1a1a" stroke-width="0.4" >N</text>
<line x1="347.40" y1="1039.40" x2="361.60" y2="1031.50" stroke="#404040" stroke-width="1.6" stroke-linecap="butt"/>
<text x="364.70" y="1033.80" font-size="19.5" font-weight="normal" font-style="normal" fill="#1a1a1a" stroke="#1a1a1a" stroke-width="0.4" >Br</text>
<text x="199.60" y="1166.60" font-size="19.8" font-weight="bold" font-style="normal" fill="#7f1f84" stroke="#7f1f84" stroke-width="0.0" >anti-HIV</text>
<text x="407.50" y="697.30" font-size="19.5" font-weight="normal" font-style="normal" fill="#1a1a1a" stroke="#1a1a1a" stroke-width="0.4" >Me</text>
<text x="449.80" y="697.30" font-size="19.5" font-weight="normal" font-style="normal" fill="#1a1a1a" stroke="#1a1a1a" stroke-width="0.4" >Me</text>
<line x1="442.40" y1="712.30" x2="417.40" y2="727.20" stroke="#404040" stroke-width="1.6" stroke-linecap="butt"/>
<line x1="417.40" y1="727.20" x2="417.40" y2="755.90" stroke="#404040" stroke-width="1.6" stroke-linecap="butt"/>
<line x1="417.40" y1="755.90" x2="442.40" y2="770.90" stroke="#404040" stroke-width="1.6" stroke-linecap="butt"/>
<line x1="442.40" y1="770.90" x2="467.30" y2="755.90" stroke="#404040" stroke-width="1.6" stroke-linecap="butt"/>
<line x1="467.30" y1="755.90" x2="467.30" y2="727.20" stroke="#404040" stroke-width="1.6" stroke-linecap="butt"/>
<line x1="467.30" y1="727.20" x2="442.40" y2="712.30" stroke="#404040" stroke-width="1.6" stroke-linecap="butt"/>
<line x1="467.30" y1="727.20" x2="492.20" y2="712.30" stroke="#404040" stroke-width="1.6" stroke-linecap="butt"/>
<line x1="492.20" y1="712.30" x2="517.20" y2="727.20" stroke="#404040" stroke-width="1.6" stroke-linecap="butt"/>
<line x1="517.20" y1="727.20" x2="517.20" y2="755.90" stroke="#404040" stroke-width="1.6" stroke-linecap="butt"/>
<line x1="517.20" y1="755.90" x2="492.20" y2="770.90" stroke="#404040" stroke-width="1.6" stroke-linecap="butt"/>
<line x1="492.20" y1="770.90" x2="467.30" y2="755.90" stroke="#404040" stroke-width="1.6" stroke-linecap="butt"/>
<line x1="471.50" y1="731.50" x2="471.50" y2="751.60" stroke="#404040" stroke-width="1.6" stroke-linecap="butt"/>
<line x1="493.80" y1="718.14" x2="511.30" y2="728.57" stroke="#404040" stroke-width="1.6" stroke-linecap="butt"/>
<line x1="511.29" y1="754.55" x2="493.79" y2="765.05" stroke="#404040" stroke-width="1.6" stroke-linecap="butt"/>
<line x1="442.40" y1="712.30" x2="434.90" y2="698.60" stroke="#404040" stroke-width="1.6" stroke-linecap="butt"/>
<line x1="442.40" y1="712.30" x2="450.30" y2="699.80" stroke="#404040" stroke-width="1.6" stroke-linecap="butt"/>
<line x1="442.40" y1="770.90" x2="433.00" y2="788.30" stroke="#404040" stroke-width="1.6" stroke-linecap="butt"/>
<line x1="442.40" y1="770.90" x2="452.00" y2="783.60" stroke="#404040" stroke-width="1.6" stroke-linecap="butt"/>
<text x="406.90" y="804.10" font-size="19.5" font-weight="normal" font-style="normal" fill="#1a1a1a" stroke="#1a1a1a" stroke-width="0.4" >Me</text>
<text x="448.80" y="804.10" font-size="19.5" font-weight="normal" font-style="normal" fill="#1a1a1a" stroke="#1a1a1a" stroke-width="0.4" >Me</text>
<polygon points="540.70,713.00 515.78,724.85 518.62,729.55" fill="#1e8cf8" stroke="#1e8cf8" stroke-width="0.3" stroke-linejoin="miter"/>
<polygon points="542.95,712.53 556.38,688.26 569.41,712.37" fill="none" stroke="#1e8cf8" stroke-width="3.7" stroke-linejoin="miter"/>
<line x1="538.79" y1="707.78" x2="537.41" y2="709.22" stroke="#404040" stroke-width="1.6" stroke-linecap="butt"/>
<line x1="535.04" y1="703.10" x2="532.56" y2="705.70" stroke="#404040" stroke-width="1.6" stroke-linecap="butt"/>
<line x1="531.29" y1="698.42" x2="527.71" y2="702.18" stroke="#404040" stroke-width="1.6" stroke-linecap="butt"/>
<text x="499.60" y="701.30" font-size="19.5" font-weight="normal" font-style="normal" fill="#1a1a1a" stroke="#1a1a1a" stroke-width="0.4" >Me</text>
<polygon points="571.50,712.70 592.35,730.01 595.65,724.99" fill="#1e8cf8" stroke="#1e8cf8" stroke-width="0.3" stroke-linejoin="miter"/>
<line x1="594.20" y1="727.30" x2="619.00" y2="713.20" stroke="#404040" stroke-width="1.6" stroke-linecap="butt"/>
<line x1="619.00" y1="713.20" x2="643.80" y2="727.30" stroke="#404040" stroke-width="1.6" stroke-linecap="butt"/>
<line x1="643.80" y1="727.30" x2="669.80" y2="713.20" stroke="#404040" stroke-width="1.6" stroke-linecap="butt"/>
<line x1="669.80" y1="713.20" x2="686.30" y2="722.60" stroke="#404040" stroke-width="1.6" stroke-linecap="butt"/>
<line x1="595.10" y1="721.96" x2="613.95" y2="711.24" stroke="#404040" stroke-width="1.6" stroke-linecap="butt"/>
<line x1="648.92" y1="729.30" x2="668.68" y2="718.58" stroke="#404040" stroke-width="1.6" stroke-linecap="butt"/>
<line x1="643.80" y1="727.30" x2="643.80" y2="746.20" stroke="#404040" stroke-width="1.6" stroke-linecap="butt"/>
<text x="637.90" y="764.00" font-size="19.5" font-weight="normal" font-style="normal" fill="#1a1a1a" stroke="#1a1a1a" stroke-width="0.4" >Me</text>
<text x="687.50" y="735.60" font-size="19.5" ><tspan font-weight="normal" font-style="normal" fill="#1a1a1a" stroke="#1a1a1a" stroke-width="0.4" >CO</tspan><tspan font-weight="normal" font-style="normal" fill="#1a1a1a" stroke="#1a1a1a" stroke-width="0.4" font-size="13" dy="4">2</tspan><tspan font-weight="normal" font-style="normal" fill="#1a1a1a" stroke="#1a1a1a" stroke-width="0.4" dy="-4">H</tspan></text>
<text x="518.10" y="841.90" font-size="19.8" font-weight="bold" font-style="normal" fill="#7f1f84" stroke="#7f1f84" stroke-width="0.0" >NRX194204</text>
<text x="519.00" y="865.00" font-size="19.8" font-weight="bold" font-style="normal" fill="#7f1f84" stroke="#7f1f84" stroke-width="0.0" >anti-cancer</text>
<polygon points="610.21,953.90 635.08,952.79 623.72,974.72" fill="none" stroke="#1e8cf8" stroke-width="3.7" stroke-linejoin="miter"/>
<line x1="609.65" y1="947.60" x2="607.35" y2="947.60" stroke="#1e8cf8" stroke-width="1.7" stroke-linecap="butt"/>
<line x1="610.67" y1="942.10" x2="606.33" y2="942.10" stroke="#1e8cf8" stroke-width="1.7" stroke-linecap="butt"/>
<line x1="611.70" y1="936.60" x2="605.30" y2="936.60" stroke="#1e8cf8" stroke-width="1.7" stroke-linecap="butt"/>
<text x="601.90" y="932.90" font-size="19.5" font-weight="normal" font-style="normal" fill="#1e8cf8" stroke="#1e8cf8" stroke-width="0.4" >H</text>
<line x1="637.30" y1="950.80" x2="641.40" y2="936.10" stroke="#404040" stroke-width="1.6" stroke-linecap="butt"/>
<text x="636.30" y="932.50" font-size="19.5" font-weight="normal" font-style="normal" fill="#1a1a1a" stroke="#1a1a1a" stroke-width="0.4" >Me</text>
<line x1="637.30" y1="951.70" x2="655.20" y2="951.70" stroke="#404040" stroke-width="1.6" stroke-linecap="butt"/>
<text x="657.50" y="960.60" font-size="19.5" font-weight="normal" font-style="normal" fill="#1a1a1a" stroke="#1a1a1a" stroke-width="0.4" >Me</text>
<line x1="629.90" y1="978.60" x2="629.90" y2="976.20" stroke="#1e8cf8" stroke-width="1.7" stroke-linecap="butt"/>
<line x1="636.70" y1="979.62" x2="636.70" y2="975.17" stroke="#1e8cf8" stroke-width="1.7" stroke-linecap="butt"/>
<line x1="643.50" y1="980.65" x2="643.50" y2="974.15" stroke="#1e8cf8" stroke-width="1.7" stroke-linecap="butt"/>
<text x="646.50" y="986.30" font-size="19.5" font-weight="normal" font-style="normal" fill="#1e8cf8" stroke="#1e8cf8" stroke-width="0.4" >H</text>
<line x1="607.00" y1="954.00" x2="573.70" y2="949.70" stroke="#404040" stroke-width="1.6" stroke-linecap="butt"/>
<line x1="573.70" y1="949.70" x2="556.40" y2="975.10" stroke="#404040" stroke-width="1.6" stroke-linecap="butt"/>
<line x1="551.32" y1="972.96" x2="550.28" y2="975.24" stroke="#404040" stroke-width="1.6" stroke-linecap="butt"/>
<line x1="545.77" y1="969.49" x2="544.03" y2="973.31" stroke="#404040" stroke-width="1.6" stroke-linecap="butt"/>
<line x1="540.23" y1="966.02" x2="537.77" y2="971.38" stroke="#404040" stroke-width="1.6" stroke-linecap="butt"/>
<text x="509.40" y="971.20" font-size="19.5" font-weight="normal" font-style="normal" fill="#1a1a1a" stroke="#1a1a1a" stroke-width="0.4" >Me</text>
<polygon points="565.50,1007.80 558.93,977.48 553.67,979.12" fill="#111" stroke="#111" stroke-width="0.3" stroke-linejoin="miter"/>
<line x1="565.50" y1="1007.80" x2="592.10" y2="997.50" stroke="#404040" stroke-width="1.6" stroke-linecap="butt"/>
<line x1="592.10" y1="997.50" x2="617.50" y2="1010.50" stroke="#404040" stroke-width="1.6" stroke-linecap="butt"/>
<line x1="617.50" y1="1010.50" x2="623.90" y2="977.50" stroke="#404040" stroke-width="1.6" stroke-linecap="butt"/>
<line x1="594.40" y1="997.56" x2="594.90" y2="979.26" stroke="#404040" stroke-width="1.6" stroke-linecap="butt"/>
<line x1="589.80" y1="997.44" x2="590.30" y2="979.14" stroke="#404040" stroke-width="1.6" stroke-linecap="butt"/>
<text x="586.20" y="976.80" font-size="19.5" font-weight="normal" font-style="normal" fill="#1a1a1a" stroke="#1a1a1a" stroke-width="0.4" >O</text>
<polygon points="617.50,1010.50 637.42,1010.02 636.58,1004.78" fill="#111" stroke="#111" stroke-width="0.3" stroke-linejoin="miter"/>
<text x="639.40" y="1014.00" font-size="19.5" font-weight="normal" font-style="normal" fill="#1a1a1a" stroke="#1a1a1a" stroke-width="0.4" >H</text>
<line x1="617.50" y1="1010.50" x2="621.70" y2="1037.80" stroke="#404040" stroke-width="1.6" stroke-linecap="butt"/>
<line x1="621.70" y1="1037.80" x2="602.90" y2="1059.50" stroke="#404040" stroke-width="1.6" stroke-linecap="butt"/>
<line x1="602.90" y1="1059.50" x2="575.20" y2="1059.50" stroke="#404040" stroke-width="1.6" stroke-linecap="butt"/>
<line x1="575.20" y1="1059.50" x2="558.30" y2="1035.40" stroke="#404040" stroke-width="1.6" stroke-linecap="butt"/>
<line x1="558.30" y1="1035.40" x2="565.50" y2="1007.80" stroke="#404040" stroke-width="1.6" stroke-linecap="butt"/>
<line x1="615.71" y1="1038.30" x2="602.55" y2="1053.49" stroke="#404040" stroke-width="1.6" stroke-linecap="butt"/>
<line x1="602.90" y1="1059.50" x2="617.30" y2="1086.90" stroke="#404040" stroke-width="1.6" stroke-linecap="butt"/>
<line x1="617.30" y1="1086.90" x2="633.20" y2="1086.90" stroke="#404040" stroke-width="1.6" stroke-linecap="butt"/>
<text x="636.10" y="1097.00" font-size="19.5" font-weight="normal" font-style="normal" fill="#1a1a1a" stroke="#1a1a1a" stroke-width="0.4" >OH</text>
<polygon points="575.20,1059.50 564.86,1073.47 570.14,1076.13" fill="#111" stroke="#111" stroke-width="0.3" stroke-linejoin="miter"/>
<text x="540.60" y="1091.90" font-size="19.5" font-weight="normal" font-style="normal" fill="#1a1a1a" stroke="#1a1a1a" stroke-width="0.4" >HO</text>
<polygon points="558.30,1035.40 545.92,1051.67 551.08,1054.53" fill="#111" stroke="#111" stroke-width="0.3" stroke-linejoin="miter"/>
<text x="520.90" y="1070.90" font-size="19.5" font-weight="normal" font-style="normal" fill="#1a1a1a" stroke="#1a1a1a" stroke-width="0.4" >HO</text>
<line x1="565.50" y1="1007.80" x2="541.90" y2="992.30" stroke="#404040" stroke-width="1.6" stroke-linecap="butt"/>
<line x1="541.90" y1="992.30" x2="519.60" y2="1009.80" stroke="#404040" stroke-width="1.6" stroke-linecap="butt"/>
<line x1="519.60" y1="1009.80" x2="529.50" y2="1036.70" stroke="#404040" stroke-width="1.6" stroke-linecap="butt"/>
<line x1="529.50" y1="1036.70" x2="558.30" y2="1035.40" stroke="#404040" stroke-width="1.6" stroke-linecap="butt"/>
<line x1="541.15" y1="998.23" x2="525.54" y2="1010.48" stroke="#404040" stroke-width="1.6" stroke-linecap="butt"/>
<line x1="519.60" y1="1009.80" x2="499.90" y2="1005.20" stroke="#404040" stroke-width="1.6" stroke-linecap="butt"/>
<text x="470.10" y="1011.90" font-size="19.5" font-weight="normal" font-style="normal" fill="#1a1a1a" stroke="#1a1a1a" stroke-width="0.4" >Me</text>
<polygon points="529.50,1036.70 511.53,1039.18 513.27,1044.82" fill="#111" stroke="#111" stroke-width="0.3" stroke-linejoin="miter"/>
<text x="480.90" y="1053.10" font-size="19.5" font-weight="normal" font-style="normal" fill="#1a1a1a" stroke="#1a1a1a" stroke-width="0.4" >HO</text>
<text x="546.00" y="1147.80" font-size="19.8" font-weight="bold" font-style="normal" fill="#7f1f84" stroke="#7f1f84" stroke-width="0.0" >Ingenol</text>
<text x="528.30" y="1171.40" font-size="19.8" font-weight="bold" font-style="normal" fill="#7f1f84" stroke="#7f1f84" stroke-width="0.0" >anti-cancer</text>
</svg></body></html>
